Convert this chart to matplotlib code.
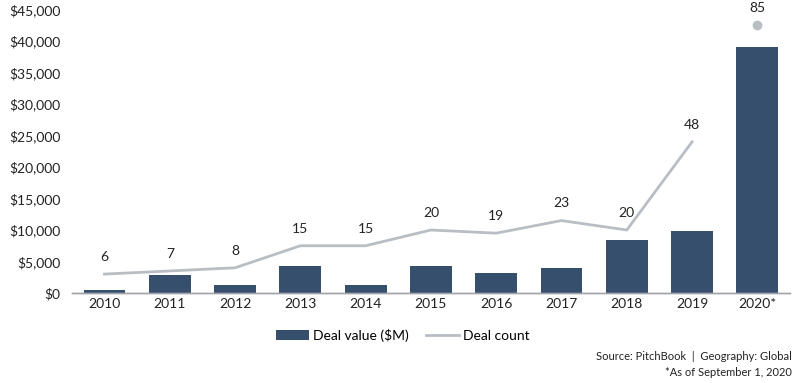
import matplotlib
matplotlib.use("Agg")
import matplotlib.pyplot as plt
import numpy as np

# Dati
years = ["2010", "2011", "2012", "2013", "2014", "2015", "2016", "2017", "2018", "2019", "2020*"]
deal_value = [500, 2900, 1300, 4300, 1300, 4300, 3200, 4000, 8400, 9900, 39100]
deal_count = [6, 7, 8, 15, 15, 20, 19, 23, 20, 48, 85]

BAR_COLOR = "#354f6c"
LINE_COLOR = "#b9bec5"
TEXT_COLOR = "#222222"

plt.rcParams["font.family"] = ["Lato", "DejaVu Sans"]

fig = plt.figure(figsize=(7.98, 3.83), dpi=100)
ax = fig.add_axes([0.09, 0.235, 0.90, 0.74])
ax2 = ax.twinx()

x = np.arange(len(years))
ax.bar(x, deal_value, width=0.64, color=BAR_COLOR, label="Deal value ($M)", zorder=2)

# linea fino al 2019, punto isolato per il 2020
ax2.plot(x[:-1], deal_count[:-1], color=LINE_COLOR, linewidth=2, label="Deal count", zorder=3)
ax2.plot(x[-1], deal_count[-1], "o", color=LINE_COLOR, markersize=6, zorder=3)
for xi, c in zip(x, deal_count):
    ax2.annotate(str(c), (xi, c), xytext=(0, 8), textcoords="offset points",
                 ha="center", va="bottom", fontsize=10, color=TEXT_COLOR)

ax.set_ylim(0, 45000)
ax2.set_ylim(0, 90)
ax.set_xlim(-0.5, len(years) - 0.5)
ax.set_yticks(np.arange(0, 45001, 5000))
ax.set_yticklabels([f"${v:,.0f}" for v in np.arange(0, 45001, 5000)])
ax.set_xticks(x)
ax.set_xticklabels(years)
ax.tick_params(axis="both", length=0, labelsize=10, colors=TEXT_COLOR)
ax.tick_params(axis="y", pad=8)
ax2.set_yticks([])

for a in (ax, ax2):
    for s in ("top", "right", "left"):
        a.spines[s].set_visible(False)
    a.spines["bottom"].set_color("#a0a4aa")
    a.spines["bottom"].set_linewidth(1)

h1, l1 = ax.get_legend_handles_labels()
h2, l2 = ax2.get_legend_handles_labels()
fig.legend(h1 + h2, l1 + l2, loc="center", bbox_to_anchor=(0.505, 0.125), ncol=2,
           frameon=False, fontsize=10, handlelength=2.4, handletextpad=0.3,
           columnspacing=1.2)

fig.text(0.992, 0.068, "Source: PitchBook  |  Geography: Global", ha="right", va="center",
         fontsize=8, color=TEXT_COLOR)
fig.text(0.992, 0.028, "*As of September 1, 2020", ha="right", va="center",
         fontsize=8, color=TEXT_COLOR)

fig.savefig("out.png", dpi=100)
plt.close(fig)
